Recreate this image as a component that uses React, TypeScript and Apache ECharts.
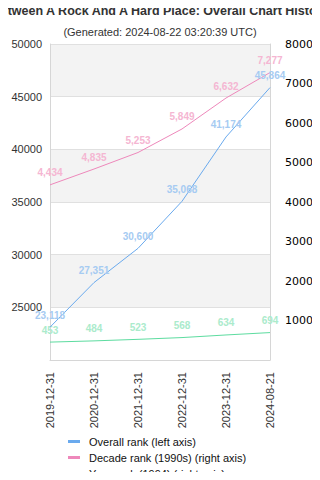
import React, { useEffect, useRef } from "react";
import * as echarts from "echarts";

const categories = ["2019-12-31", "2020-12-31", "2021-12-31", "2022-12-31", "2023-12-31", "2024-08-21"];
const overallRank = [23118, 27351, 30600, 35068, 41174, 45864];
const decadeRank = [4434, 4835, 5253, 5849, 6632, 7277];
const yearRank = [453, 484, 523, 568, 634, 694];

const fmt = (v: number) => v.toLocaleString("en-US");

export default function App() {
  const ref = useRef<HTMLDivElement>(null);
  useEffect(() => {
    if (!ref.current) return;
    const chart = echarts.init(ref.current, null, { renderer: "svg" });
    const mkLabel = (color: string) => ({
      show: true,
      position: "top",
      distance: 7,
      color,
      fontSize: 10,
      fontWeight: "bold",
      fontFamily: "Liberation Sans, Arial, sans-serif",
      formatter: (p: any) => fmt(p.value),
    });
    chart.setOption({
      animation: false,
      title: [
        {
          text: "Between A Rock And A Hard Place: Overall Chart History",
          left: "center",
          top: -1,
          textStyle: { fontSize: 12.5, fontWeight: "bold", color: "#333", fontFamily: "Liberation Sans, Arial, sans-serif" },
        },
        {
          text: "(Generated: 2024-08-22 03:20:39 UTC)",
          left: "center",
          top: 21,
          textStyle: { fontSize: 11, fontWeight: "normal", color: "#333", fontFamily: "Liberation Sans, Arial, sans-serif" },
        },
      ],
      legend: {
        orient: "vertical",
        left: 68,
        top: 436,
        height: 120,
        padding: 0,
        itemWidth: 12,
        itemHeight: 3,
        itemGap: 5,
        icon: "rect",
        textStyle: { fontSize: 11, color: "#111", fontFamily: "Liberation Sans, Arial, sans-serif", padding: [0, 0, 0, 4] },
        data: ["Overall rank (left axis)", "Decade rank (1990s) (right axis)", "Year rank (1994) (right axis)"],
      },
      grid: { left: 50, right: 50, top: 44, bottom: 120, containLabel: false },
      xAxis: {
        type: "category",
        data: categories,
        boundaryGap: false,
        axisLine: { lineStyle: { color: "#d6d6d6" } },
        axisTick: { show: false },
        axisLabel: { rotate: 90, fontSize: 11, color: "#333", margin: 12, fontFamily: "Liberation Sans, Arial, sans-serif" },
        splitLine: { show: false },
      },
      yAxis: [
        {
          type: "value",
          min: 20000,
          max: 50000,
          interval: 5000,
          position: "left",
          axisLine: { show: true, lineStyle: { color: "#d6d6d6" } },
          axisTick: { show: false },
          axisLabel: { fontSize: 11, color: "#333", margin: 8, showMinLabel: false, formatter: (v: number) => String(v), fontFamily: "Liberation Sans, Arial, sans-serif" },
          splitLine: { show: true, lineStyle: { color: "#e0e0e0" } },
          splitArea: { show: true, areaStyle: { color: ["rgba(255,255,255,0)", "#f3f3f3"] } },
        },
        {
          type: "value",
          min: 0,
          max: 8000,
          interval: 1000,
          position: "right",
          axisLine: { show: true, lineStyle: { color: "#d6d6d6" } },
          axisTick: { show: false },
          axisLabel: { fontSize: 11, color: "#000", margin: 15, showMinLabel: false, formatter: (v: number) => String(v), fontFamily: "DejaVu Sans, sans-serif" },
          splitLine: { show: false },
        },
      ],
      series: [
        {
          name: "Overall rank (left axis)",
          type: "line",
          yAxisIndex: 0,
          data: overallRank,
          symbol: "circle",
          symbolSize: 0,
          showSymbol: true,
          color: "#6aaaee",
          lineStyle: { width: 1, color: "#6aaaee" },
          label: mkLabel("#a6cbf2"),
          z: 3,
        },
        {
          name: "Decade rank (1990s) (right axis)",
          type: "line",
          yAxisIndex: 1,
          data: decadeRank,
          symbol: "circle",
          symbolSize: 0,
          showSymbol: true,
          color: "#ee88bb",
          lineStyle: { width: 1, color: "#ee88bb" },
          label: mkLabel("#f5b6d2"),
          z: 2,
        },
        {
          name: "Year rank (1994) (right axis)",
          type: "line",
          yAxisIndex: 1,
          data: yearRank,
          symbol: "circle",
          symbolSize: 0,
          showSymbol: true,
          color: "#5ddca0",
          lineStyle: { width: 1, color: "#5ddca0" },
          label: mkLabel("#abebcc"),
          z: 2,
        },
      ],
    });
    return () => chart.dispose();
  }, []);
  return <div ref={ref} style={{ width: 320, height: 480, margin: -8 }} />;
}
